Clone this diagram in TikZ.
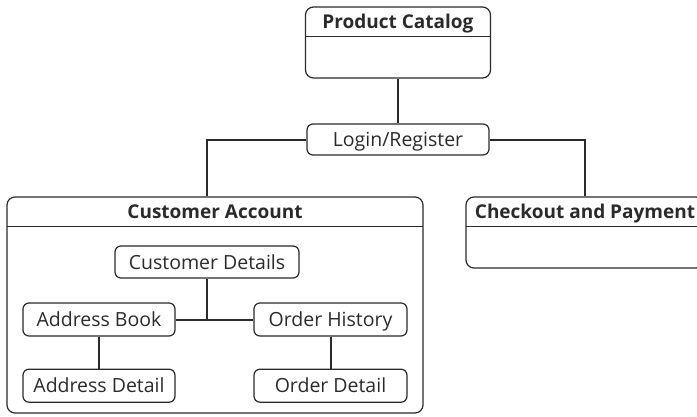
\documentclass[tikz,border=0pt]{standalone}
\usepackage{fontspec}
\setmainfont{Open Sans}
\usepackage{xcolor}
\usepackage{tikz}
\usetikzlibrary{positioning}

\definecolor{inkgray}{HTML}{2B2A2A}

\begin{document}
\begin{tikzpicture}[
				x=1pt, y=-1pt,
				block/.style={rectangle, rounded corners=6pt, draw=inkgray, line width=1.2pt, minimum height=32pt, inner sep=0pt, align=center, text=inkgray, text height=14pt, text depth=0pt, font=\fontsize{19.5}{23}\selectfont},
				panel/.style={rectangle, rounded corners=8pt, draw=inkgray, line width=1.2pt, inner sep=0pt},
				paneltitle/.style={rectangle, anchor=north, minimum height=30pt, inner sep=0pt, text=inkgray, text height=14pt, text depth=0pt, font=\bfseries\fontsize{19}{23}\selectfont},
				divider/.style={draw=inkgray, line width=1.2pt},
				link/.style={draw=inkgray, line width=2pt}
				]
				\useasboundingbox (0,0) rectangle (697,416);
				% Panels
				\node (catalog) [panel, minimum width=185pt, minimum height=71pt] at (398,42.5) {};
				\node (catalogTitle) [paneltitle, minimum width=185pt] at (catalog.north) {Product Catalog};
				\node (login) [block, minimum width=182pt, minimum height=31pt] at (398,139.5) {Login/Register};
				\node (account) [panel, minimum width=416pt, minimum height=216pt] at (215,305) {};
				\node (accountTitle) [paneltitle, minimum width=416pt] at (account.north) {Customer Account};
				\node (checkout) [panel, minimum width=238pt, minimum height=71pt] at (585,232.5) {};
				\node (checkoutTitle) [paneltitle, minimum width=238pt] at (checkout.north) {Checkout and Payment};
				
				% Nodes inside the account panel
				\node (details) [block, minimum width=184pt] at (207,262) {Customer Details};
				\node (book) [block, minimum width=152pt, minimum height=33pt] at (99,319.5) {Address Book};
				\node (history) [block, minimum width=153pt, minimum height=33pt] at (330.5,319.5) {Order History};
				\node (bookDetail) [block, minimum width=152pt, minimum height=33pt, below=32pt of book] {Address Detail};
				\node (orderDetail) [block, minimum width=153pt, minimum height=33pt, below=32pt of history] {Order Detail};
				
				% Dividers
				\draw [divider] (catalogTitle.south west) -- (catalogTitle.south east);
				\draw [divider] (accountTitle.south west) -- (accountTitle.south east);
				\draw [divider] (checkoutTitle.south west) -- (checkoutTitle.south east);
				
				% Links
				\draw [link] (catalog.south) -- (login.north);
				\draw [link] (login.west) -| (account.north -| details.north);
				\draw [link] (login.east) -| (checkout.north);
				\draw [link] (details.south) -- (details.south |- book.east);
				\draw [link] (book.east) -- (history.west);
				\draw [link] (book) -- (bookDetail);
				\draw [link] (history) -- (orderDetail);
			\end{tikzpicture}
\end{document}
